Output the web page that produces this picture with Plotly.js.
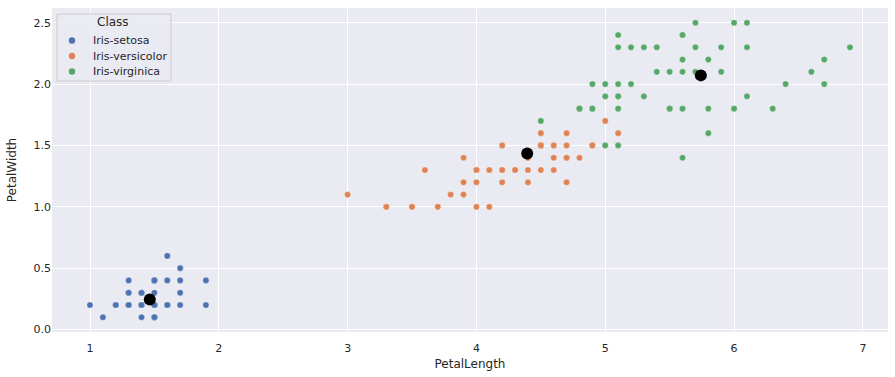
<!DOCTYPE html>
<html><head><meta charset="utf-8">
<script src="https://cdn.plot.ly/plotly-3.0.1.min.js"></script>
<style>body{margin:0;background:#fff}#c{width:895px;height:377px}</style>
</head><body><div id="c"></div>
<script>
const classes = ["Iris-setosa","Iris-versicolor","Iris-virginica"];
const colors = ["#4c72b0","#dd8452","#55a868"];
const setosaLength = [1.4,1.4,1.3,1.5,1.4,1.7,1.4,1.5,1.4,1.5,1.5,1.6,1.4,1.1,1.2,1.5,1.3,1.4,1.7,1.5,1.7,1.5,1.0,1.7,1.9,1.6,1.6,1.5,1.4,1.6,1.6,1.5,1.5,1.4,1.5,1.2,1.3,1.5,1.3,1.5,1.3,1.3,1.3,1.6,1.9,1.4,1.6,1.4,1.5,1.4];
const setosaWidth  = [0.2,0.2,0.2,0.2,0.2,0.4,0.3,0.2,0.2,0.1,0.2,0.2,0.1,0.1,0.2,0.4,0.4,0.3,0.3,0.3,0.2,0.4,0.2,0.5,0.2,0.2,0.4,0.2,0.2,0.2,0.2,0.4,0.1,0.2,0.1,0.2,0.2,0.1,0.2,0.2,0.3,0.3,0.2,0.6,0.4,0.3,0.2,0.2,0.2,0.2];
const versicolorLength = [4.7,4.5,4.9,4.0,4.6,4.5,4.7,3.3,4.6,3.9,3.5,4.2,4.0,4.7,3.6,4.4,4.5,4.1,4.5,3.9,4.8,4.0,4.9,4.7,4.3,4.4,4.8,5.0,4.5,3.5,3.8,3.7,3.9,5.1,4.5,4.5,4.7,4.4,4.1,4.0,4.4,4.6,4.0,3.3,4.2,4.2,4.2,4.3,3.0,4.1];
const versicolorWidth  = [1.4,1.5,1.5,1.3,1.5,1.3,1.6,1.0,1.3,1.4,1.0,1.5,1.0,1.4,1.3,1.4,1.5,1.0,1.5,1.1,1.8,1.3,1.5,1.2,1.3,1.4,1.4,1.7,1.5,1.0,1.1,1.0,1.2,1.6,1.5,1.6,1.5,1.3,1.3,1.3,1.2,1.4,1.2,1.0,1.3,1.2,1.3,1.3,1.1,1.3];
const virginicaLength = [6.0,5.1,5.9,5.6,5.8,6.6,4.5,6.3,5.8,6.1,5.1,5.3,5.5,5.0,5.1,5.3,5.5,6.7,6.9,5.0,5.7,4.9,6.7,4.9,5.7,6.0,4.8,4.9,5.6,5.8,6.1,6.4,5.6,5.1,5.6,6.1,5.6,5.5,4.8,5.4,5.6,5.1,5.1,5.9,5.7,5.2,5.0,5.2,5.4,5.1];
const virginicaWidth  = [2.5,1.9,2.1,1.8,2.2,2.1,1.7,1.8,1.8,2.5,2.0,1.9,2.1,2.0,2.4,2.3,1.8,2.2,2.3,1.5,2.3,2.0,2.0,1.8,2.1,1.8,1.8,1.8,2.1,1.6,1.9,2.0,2.2,1.5,1.4,2.3,2.4,1.8,1.8,2.1,2.4,2.3,1.9,2.3,2.5,2.3,1.9,2.0,2.3,1.8];
const centerLength = [1.464,4.394,5.742];
const centerWidth  = [0.244,1.434,2.071];
const xTicks = [1,2,3,4,5,6,7];
const yTicks = [0.0,0.5,1.0,1.5,2.0,2.5];
const legendTitle = "Class";

const xs = [setosaLength, versicolorLength, virginicaLength];
const ys = [setosaWidth, versicolorWidth, virginicaWidth];
const traces = classes.map((name,i)=>({
  type:'scatter', mode:'markers', name:name, x:xs[i], y:ys[i], showlegend:false,
  marker:{color:colors[i], size:6.2, line:{color:'white', width:0.3}}
}));
traces.push({type:'scatter', mode:'markers', x:centerLength, y:centerWidth, showlegend:false,
  marker:{color:'black', size:12}});

// custom legend (pixel-based placement converted to paper coords)
const L=52, T=8, W=836, H=324;
const px = v => (v-L)/W, py = v => (T+H-v)/H;
const shapes = [{type:'rect', xref:'paper', yref:'paper', x0:px(57), x1:px(171), y0:py(81), y1:py(14),
  fillcolor:'rgba(234,234,242,0.8)', line:{color:'#cccccc', width:1}, layer:'above'}];
const annotations = [{xref:'paper', yref:'paper', x:px(113), y:py(22.5), text:legendTitle, showarrow:false,
  xanchor:'center', yanchor:'middle', font:{size:12, color:'#262626'}}];
const rowY = [40.5, 56, 71.5];
classes.forEach((name,i)=>{
  shapes.push({type:'circle', xref:'paper', yref:'paper', x0:px(68.8), x1:px(75.2), y0:py(rowY[i]+3.2), y1:py(rowY[i]-3.2),
    fillcolor:colors[i], line:{color:colors[i], width:0}, layer:'above'});
  annotations.push({xref:'paper', yref:'paper', x:px(91), y:py(rowY[i]), text:name, showarrow:false,
    xanchor:'left', yanchor:'middle', font:{size:11, color:'#262626'}});
});

const layout = {
  width:895, height:377,
  margin:{l:L, r:7, t:T, b:377-T-H},
  paper_bgcolor:'white', plot_bgcolor:'#eaeaf2',
  font:{family:'DejaVu Sans', color:'#262626', size:11},
  showlegend:false,
  shapes:shapes, annotations:annotations,
  xaxis:{range:[0.705,7.195], tickvals:xTicks, ticktext:xTicks.map(String), gridcolor:'white', gridwidth:1, zeroline:false, showline:false,
    ticks:'outside', ticklen:6, tickcolor:'rgba(0,0,0,0)', tickfont:{size:11, color:'#262626'},
    title:{text:'PetalLength', font:{size:12, color:'#262626'}, standoff:5}, automargin:false},
  yaxis:{range:[-0.02,2.62], tickvals:yTicks, ticktext:yTicks.map(v=>v.toFixed(1)), gridcolor:'white', gridwidth:1, zeroline:false, showline:false,
    ticks:'', tickfont:{size:11, color:'#262626'},
    title:{text:'PetalWidth', font:{size:12, color:'#262626'}, standoff:14}, automargin:false}
};
Plotly.newPlot('c', traces, layout, {displayModeBar:false, staticPlot:true});
</script></body></html>
